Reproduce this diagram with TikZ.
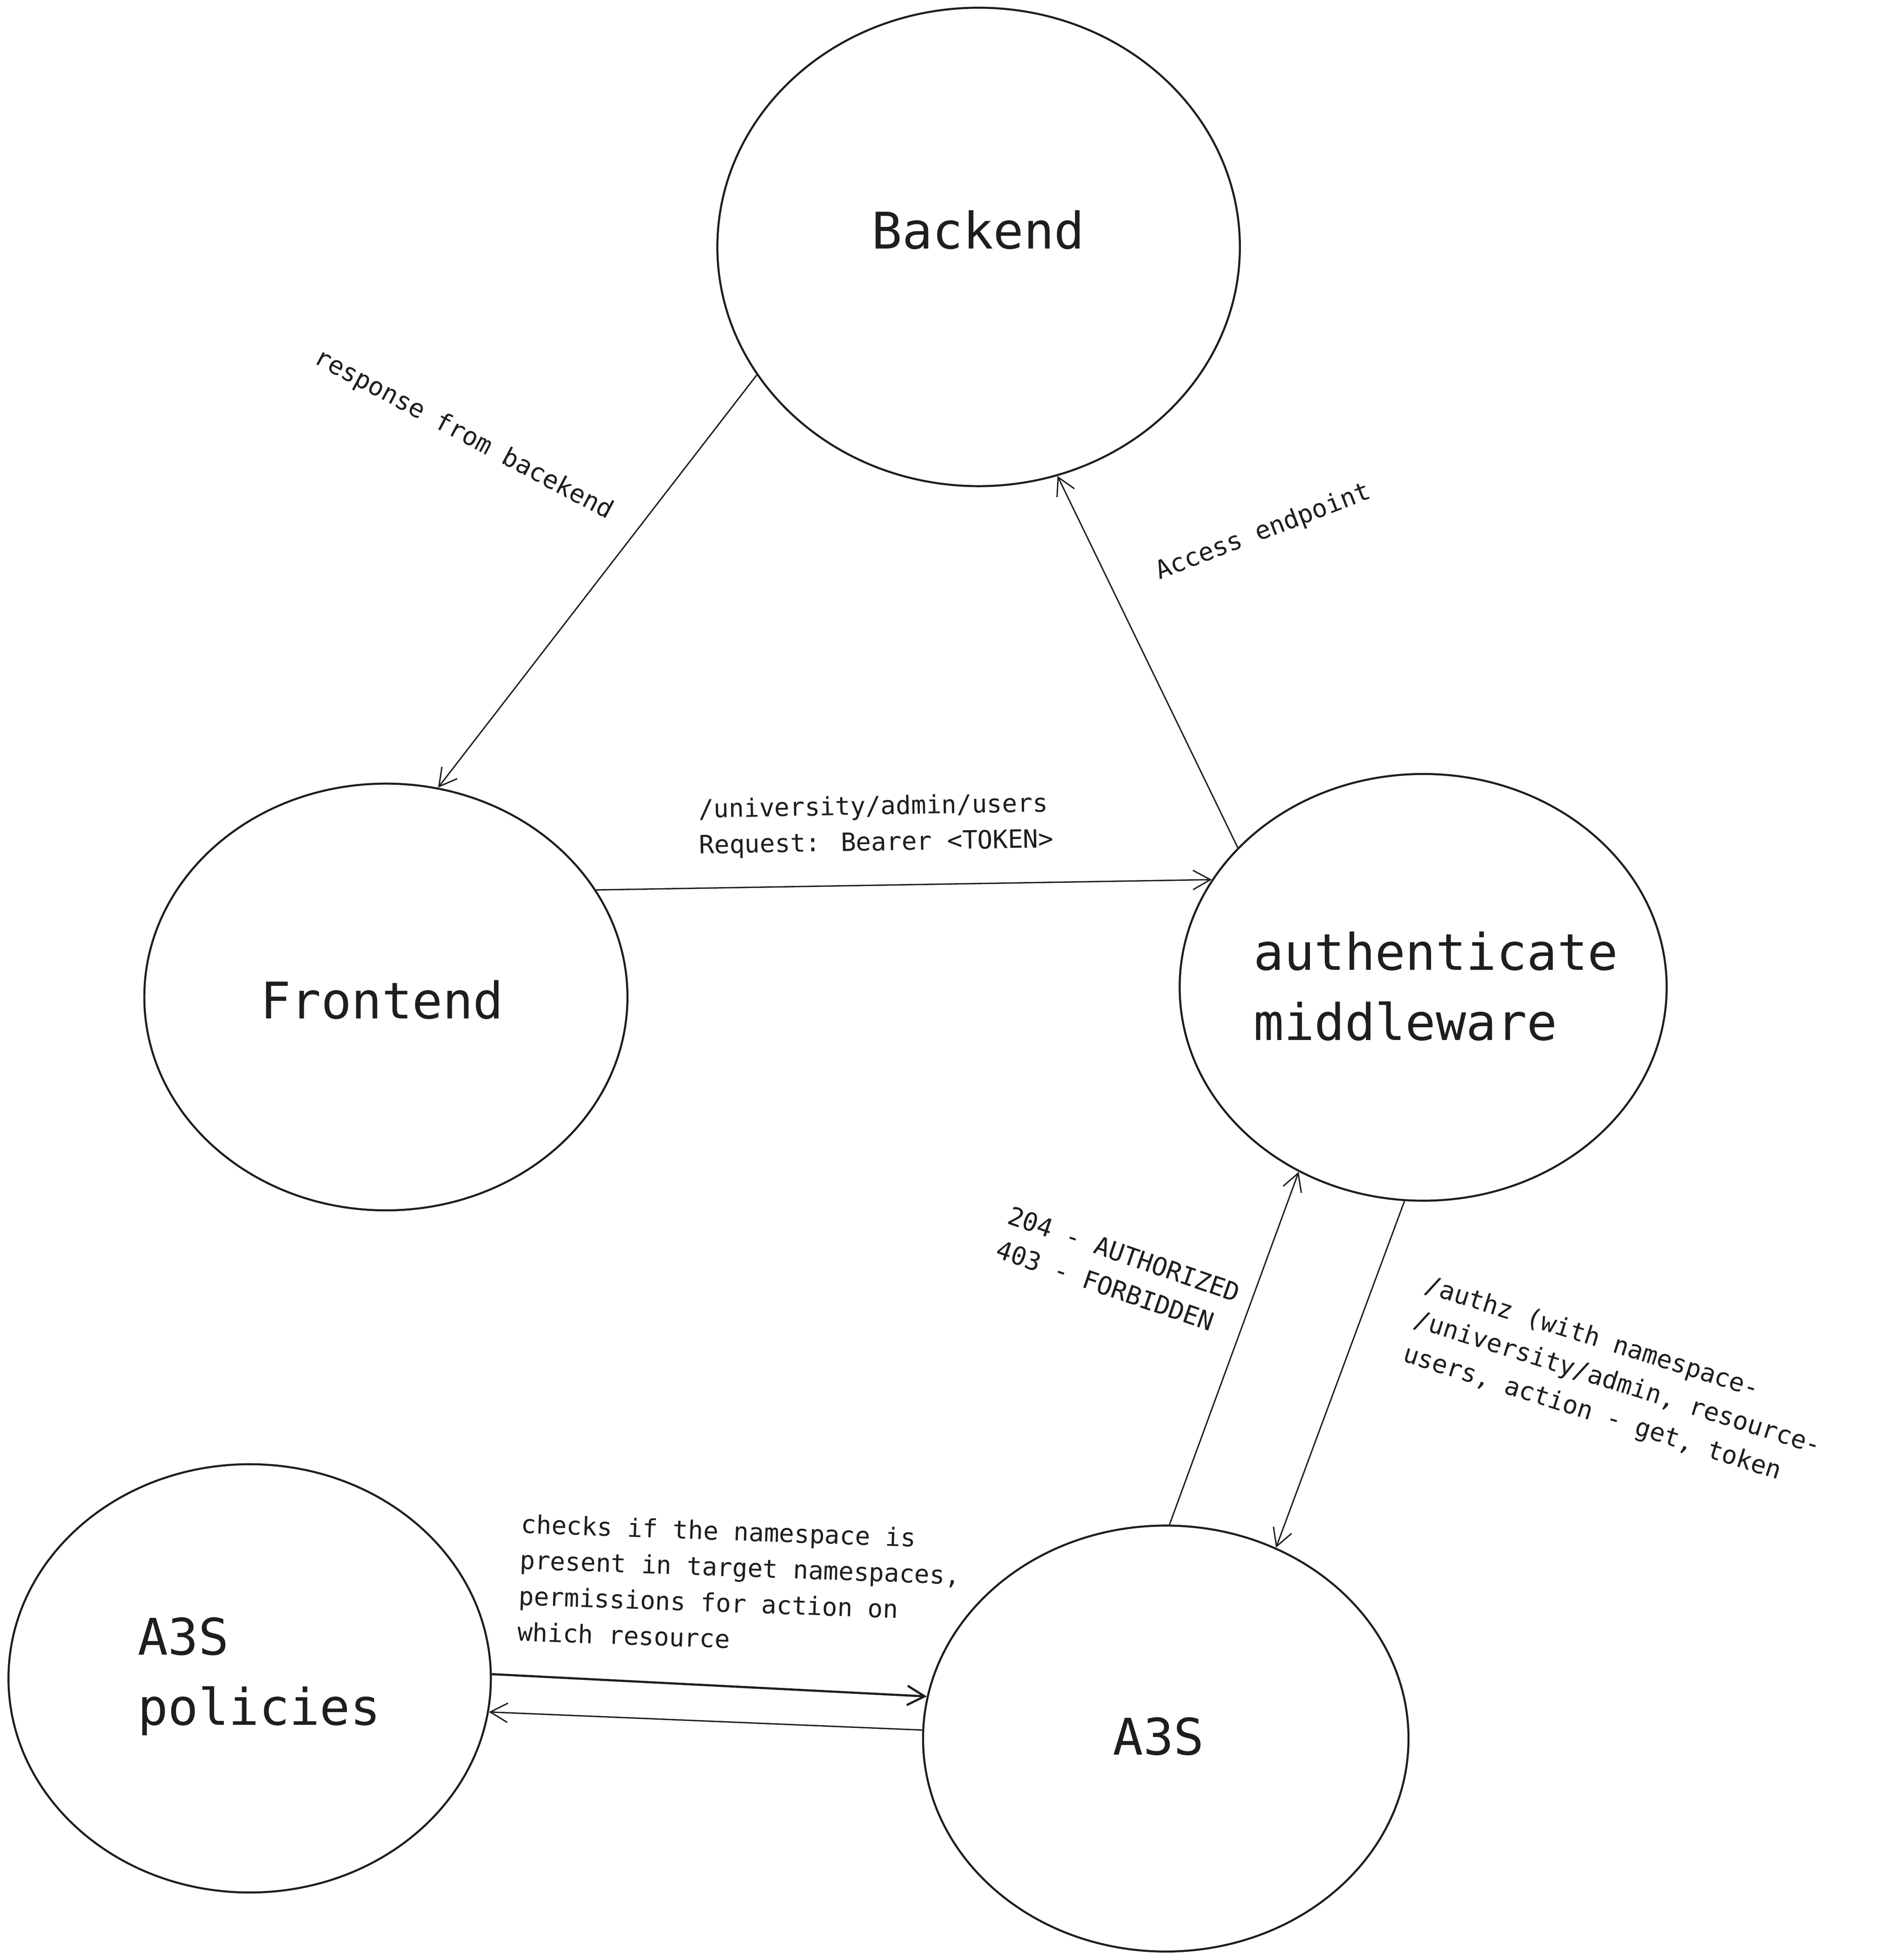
\documentclass[tikz,border=0pt]{standalone}
\usepackage{fontspec}
\usetikzlibrary{shapes.geometric, arrows.meta}
\newfontfamily\handfont{DejaVu Sans Mono}
\definecolor{ink}{HTML}{1E1E1E}

\begin{document}
\begin{tikzpicture}[ink, line width=1pt,
      main/.style = {draw, ellipse, line width=1.5pt, inner sep=0pt},
      big/.style = {font=\handfont\fontsize{37.2}{51.8}\selectfont, inner sep=0pt},
      small/.style = {font=\handfont\fontsize{18.6}{26.5}\selectfont, inner sep=0pt, align=left},
      >={Straight Barb[length=4.5mm, width=5mm]}]
    \useasboundingbox (0,0) rectangle (48.9,-50.8);

    % nodes
    \node[main, minimum width=13.54cm, minimum height=12.40cm] (back) at (25.36,-6.40) {};
    \node[main, minimum width=12.52cm, minimum height=11.06cm] (front) at (10.00,-25.84) {};
    \node[main, minimum width=12.62cm, minimum height=11.06cm] (auth) at (36.88,-25.59) {};
    \node[main, minimum width=12.50cm, minimum height=11.10cm] (pol) at (6.47,-43.50) {};
    \node[main, minimum width=12.58cm, minimum height=11.04cm] (a3s) at (30.21,-45.06) {};

    % node texts
    \node[big, anchor=base] (back-t) at (25.35,-6.45) {Backend};
    \node[big, anchor=base] (front-t) at (9.90,-26.40) {Frontend};
    \node[big, align=left, anchor=north west] (auth-t) at (32.47,-24.13) {authenticate\\middleware};
    \node[big, align=left, anchor=north west] (pol-t) at (3.55,-41.90) {A3S\\policies};
    \node[big, anchor=base] (a3s-t) at (30.02,-45.48) {A3S};

    % edge labels
    \node[small, rotate=-28, anchor=base] (resp) at (11.92,-11.43) {response from bacekend};
    \node[small, rotate=21, anchor=base] (acc) at (32.80,-13.96) {Access endpoint};
    \node[small, rotate=1, anchor=north west] (req) at (18.08,-20.68) {/university/admin/users\\Request: Bearer <TOKEN>};
    \node[small, rotate=-19, anchor=north west] (codes) at (26.22,-31.22) {204 - AUTHORIZED\\403 - FORBIDDEN};
    \node[small, rotate=-17.5, anchor=north west] (authz) at (37.02,-33.00) {/authz (with namespace-\\/university/admin, resource-\\users, action - get, token};
    \node[small, rotate=-2, anchor=north west] (checks) at (13.50,-39.22) {checks if the namespace is\\present in target namespaces,\\permissions for action on\\which resource};

    % directed edges
    \draw[->] (back.210) -- (front.76);
    \draw[->] (front.27) -- (auth.153);
    \draw[->] (auth.143) -- (back.289);
    \draw[->] (a3s.89) -- (auth.236);
    \draw[->] (auth.265) -- (a3s.60);
    \draw[->, line width=1.6pt] (pol.1) -- (a3s.170);
    \draw[->] (a3s.178) -- (pol.352);

\end{tikzpicture}
\end{document}
